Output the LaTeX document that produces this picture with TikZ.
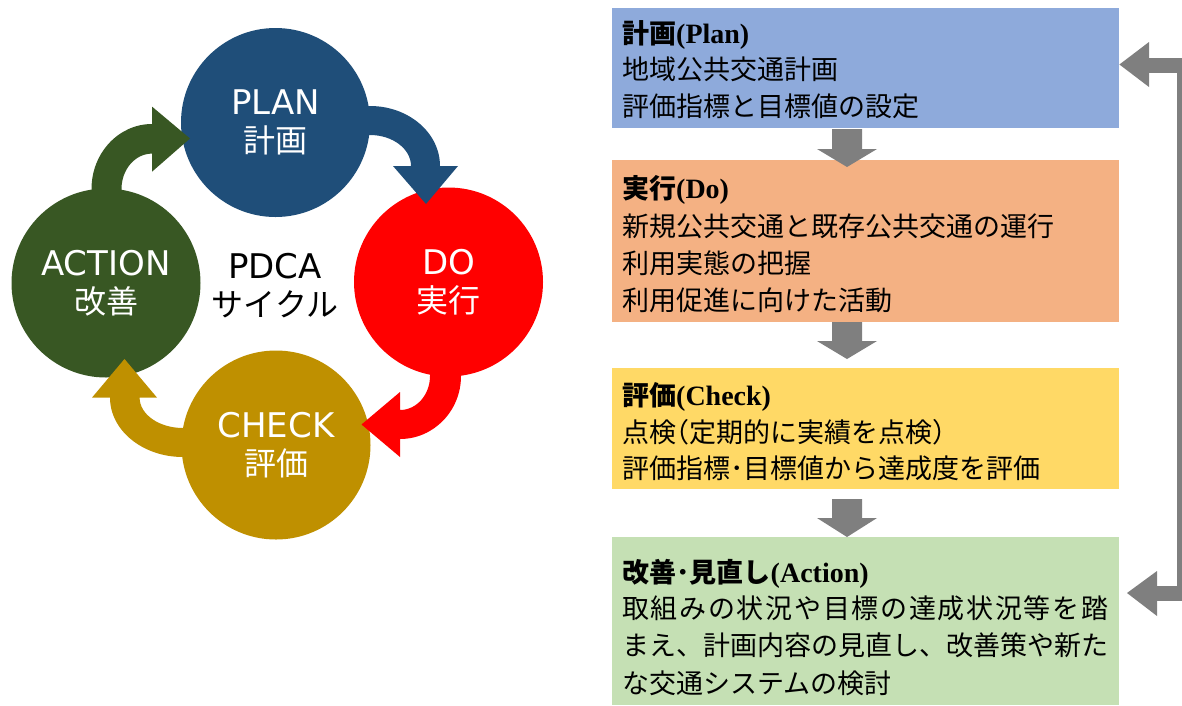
\documentclass[tikz,border=0pt]{standalone}
\usepackage{fontspec}
\newfontfamily\jpfont{Noto Sans CJK JP}
\newfontfamily\latfont{DejaVu Sans}
\newfontfamily\serfont{Liberation Serif}
\definecolor{planC}{HTML}{1F4E79}
\definecolor{doC}{HTML}{FF0000}
\definecolor{checkC}{HTML}{BF9000}
\definecolor{actC}{HTML}{385723}
\definecolor{planBox}{HTML}{8EAADB}
\definecolor{doBox}{HTML}{F4B183}
\definecolor{checkBox}{HTML}{FFD966}
\definecolor{actBox}{HTML}{C5E0B4}
\definecolor{grayA}{HTML}{7F7F7F}
\newcommand\pdcalat{\latfont\fontsize{34}{37}\selectfont}
\newcommand\pdcajp{\jpfont\fontsize{32}{37}\selectfont}
\newcommand\ttl[1]{{\serfont\bfseries\fontsize{28}{30}\selectfont #1}}
\newcommand\hlp{\makebox[13.5pt][r]{（}}
\newcommand\hrp{\makebox[13.5pt][l]{）}}
\begin{document}
\begin{tikzpicture}[x=1pt,y=-1pt,
  pdca/.style={circle,minimum size=189pt,inner sep=0pt,align=center,text=white,
    font=\fontsize{34}{37}\selectfont},
  midtxt/.style={align=center,inner sep=0pt,font=\fontsize{34}{37}\selectfont},
  boxbg/.style={rectangle,inner sep=0pt,anchor=north west,minimum width=507pt},
  boxtxt/.style={anchor=base west,inner sep=0pt,font=\jpfont\fontsize{27}{30}\selectfont},
  garrow/.style={fill=grayA},
  gline/.style={draw=grayA,line width=15pt,line join=miter}]
\useasboundingbox (0,0) rectangle (1182,705);

% PDCA circles
\node[pdca,fill=planC] (plan) at (275.5,122.5) {\pdcalat PLAN\\[1pt]\pdcajp 計画};
\node[pdca,fill=doC] (do) at (448.5,282) {\pdcalat DO\\[1pt]\pdcajp 実行};
\node[pdca,fill=checkC] (check) at (276,445) {\pdcalat CHECK\\[1pt]\pdcajp 評価};
\node[pdca,fill=actC] (act) at (106,283) {\pdcalat ACTION\\[1pt]\pdcajp 改善};
\node[midtxt] (center) at (275,286) {\pdcalat PDCA\\[1pt]\pdcajp サイクル};

% curved block arrows
\fill[planC] (366,106) -- (370,106) arc[start angle=-90,end angle=0,x radius=70,y radius=60]
  -- (458,166) -- (426,204) -- (393,166) -- (411,166)
  arc[start angle=0,end angle=-90,x radius=41,y radius=31] -- (366,135) -- cycle;
\fill[doC] (461,370) -- (461,376) arc[start angle=0,end angle=90,x radius=61,y radius=63]
  -- (400,457) -- (361.5,424.5) -- (400,392) -- (400,410)
  arc[start angle=90,end angle=0,x radius=30,y radius=34] -- (430,370) -- cycle;
\fill[checkC] (187,457) -- (183,457) arc[start angle=90,end angle=180,x radius=73,y radius=59.4]
  -- (92,397.6) -- (124.5,359) -- (157,397.6) -- (139.6,397.6)
  arc[start angle=180,end angle=90,x radius=43.4,y radius=30.4] -- (187,428) -- cycle;
\fill[actC] (91.5,194) -- (91.5,189) arc[start angle=180,end angle=270,x radius=60.5,y radius=65]
  -- (152,106.6) -- (190,138.5) -- (152,171.7) -- (152,153.6)
  arc[start angle=270,end angle=180,x radius=30.5,y radius=35.4] -- (121.5,194) -- cycle;

% right boxes
\node[boxbg,fill=planBox,minimum height=120pt] (planbox) at (612,8) {};
\node[boxbg,fill=doBox,minimum height=162pt] (dobox) at (612,160) {};
\node[boxbg,fill=checkBox,minimum height=121pt] (checkbox) at (612,368) {};
\node[boxbg,fill=actBox,minimum height=168pt] (actbox) at (612,537) {};

\node[boxtxt] (p1) at (622,43) {{\bfseries 計画}\ttl{(Plan)}};
\node[boxtxt] (p2) at (622,79.5) {地域公共交通計画};
\node[boxtxt] (p3) at (622,116) {評価指標と目標値の設定};

\node[boxtxt] (d1) at (622,198) {{\bfseries 実行}\ttl{(Do)}};
\node[boxtxt] (d2) at (622,236) {新規公共交通と既存公共交通の運行};
\node[boxtxt] (d3) at (622,273) {利用実態の把握};
\node[boxtxt] (d4) at (622,310) {利用促進に向けた活動};

\node[boxtxt] (c1) at (622,405) {{\bfseries 評価}\ttl{(Check)}};
\node[boxtxt] (c2) at (622,442) {点検\hlp 定期的に実績を点検\hrp};
\node[boxtxt] (c3) at (622,478) {評価指標･目標値から達成度を評価};

\node[boxtxt] (a1) at (622,582) {{\bfseries 改善･見直し}\ttl{(Action)}};
\node[boxtxt] (a2) at (622,618) {\hbox to 486pt{取\hfil 組\hfil み\hfil の\hfil 状\hfil 況\hfil や\hfil 目\hfil 標\hfil の\hfil 達\hfil 成\hfil 状\hfil 況\hfil 等\hfil を\hfil 踏}};
\node[boxtxt] (a3) at (622,655) {まえ、計画内容の見直し、改善策や新た};
\node[boxtxt] (a4) at (622,693) {な交通システムの検討};

% down arrows between boxes
\fill[garrow] (832,129) -- (862,129) -- (862,149) -- (877,149) -- (847,167) -- (817,149) -- (832,149) -- cycle;
\fill[garrow] (832,322) -- (862,322) -- (862,341) -- (877,341) -- (847,359) -- (817,341) -- (832,341) -- cycle;
\fill[garrow] (832,499) -- (862,499) -- (862,518) -- (877,518) -- (847,537) -- (817,518) -- (832,518) -- cycle;

% feedback arrow
\coordinate (fbA) at (1149,65);
\coordinate (fbB) at (1184.5,65);
\coordinate (fbC) at (1184.5,593);
\coordinate (fbD) at (1157,593);
\draw[gline] (fbA) -- (fbB) -- (fbC) -- (fbD);
\fill[garrow] (planbox.east |- fbA) ++(0,-0.5) -- (1149,42) -- (1149,87) -- cycle;
\fill[garrow] (1127,593) -- (1157,571) -- (1157,616) -- cycle;
\end{tikzpicture}
\end{document}
